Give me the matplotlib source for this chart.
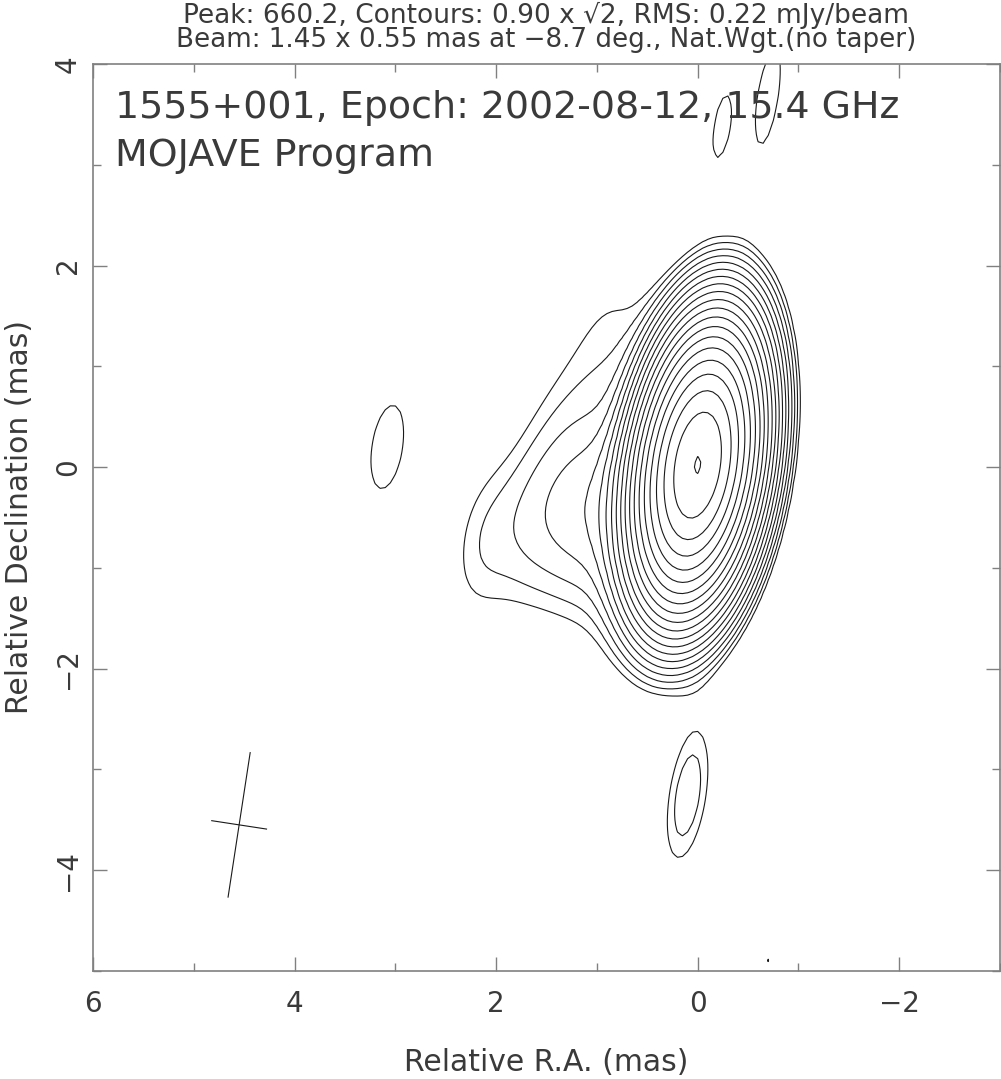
import numpy as np
import matplotlib
matplotlib.use("Agg")
import matplotlib.pyplot as plt
from matplotlib.ticker import MultipleLocator

# map header values
peak = 660.2
base_level = 0.90
rms = 0.22
beam_major = 1.45
beam_minor = 0.55
beam_pa = -8.7
source = "1555+001"
epoch = "2002-08-12"
freq = 15.4

# source components (RA offset mas, Dec offset mas, mJy, FWHM mas)
comp_x = [0.0, 0.55, 1.15, 1.65, 2.15, 0.85, 1.35, 0.7]
comp_y = [0.02, -0.30, -0.45, -0.55, -0.75, 1.30, 0.45, -1.35]
comp_flux = [765.0, 5.0, 3.0, 1.5, 1.1, 1.2, 0.9, 0.9]
comp_size = [0.3, 0.4, 0.4, 0.3, 0.2, 0.5, 0.5, 0.6]

# isolated noise peaks (RA, Dec, mJy/beam, width across and along the beam, mas)
noise_x = [3.08, 0.10, -0.24, -0.70, -0.69]
noise_y = [0.20, -3.26, 3.38, 3.68, -4.89]
noise_peak = [1.2, 1.64, 1.1, 1.2, 0.96]
noise_sx = [0.20, 0.164, 0.12, 0.13, 0.05]
noise_sy = [0.55, 0.566, 0.48, 0.63, 0.08]

# beam marker position
beam_x = 4.55
beam_y = -3.55

TEXT = "#3a3a3a"
FRAME = "#808080"
LINE = "#1a1a1a"


def beam_axes():
    pa = np.radians(beam_pa)
    e1 = np.array([np.sin(pa), np.cos(pa)])
    e2 = np.array([np.cos(pa), -np.sin(pa)])
    return e1, e2


def beam_cov(extra=0.0):
    e1, e2 = beam_axes()
    smaj = beam_major / 2.3548
    smin = beam_minor / 2.3548
    cov = smaj**2 * np.outer(e1, e1) + smin**2 * np.outer(e2, e2)
    s = extra / 2.3548
    return cov + s**2 * np.eye(2)


def make_map(X, Y):
    img = np.zeros_like(X)
    cb = beam_cov()
    for x0, y0, f, size in zip(comp_x, comp_y, comp_flux, comp_size):
        c = beam_cov(size)
        amp = f * np.sqrt(np.linalg.det(cb) / np.linalg.det(c))
        ci = np.linalg.inv(c)
        dx = X - x0
        dy = Y - y0
        q = ci[0, 0] * dx * dx + 2 * ci[0, 1] * dx * dy + ci[1, 1] * dy * dy
        img += amp * np.exp(-0.5 * q)
    e1, e2 = beam_axes()
    for x0, y0, p, sx, sy in zip(noise_x, noise_y, noise_peak, noise_sx, noise_sy):
        dx = X - x0
        dy = Y - y0
        u = e1[0] * dx + e1[1] * dy
        v = e2[0] * dx + e2[1] * dy
        img += p * np.exp(-0.5 * ((u / sy) ** 2 + (v / sx) ** 2))
    return img


def minus(v, p):
    return f"{v:g}".replace("-", "\u2212")


def main():
    plt.rcParams["font.family"] = ["DejaVu Sans"]
    fig = plt.figure(figsize=(10.01, 10.79), dpi=100)
    ax = fig.add_axes([93 / 1001, 1 - 971 / 1079, 907 / 1001, 907 / 1079])

    xs = np.arange(-3.2, 6.25, 0.05)
    ys = np.arange(-5.2, 4.25, 0.05)
    X, Y = np.meshgrid(xs, ys)
    img = make_map(X, Y)

    levels = [base_level * np.sqrt(2) ** k for k in range(30)]
    levels = [l for l in levels if l < peak]
    ax.contour(X, Y, img, levels=levels, colors=LINE, linewidths=0.8)

    # beam cross
    e1, e2 = beam_axes()
    for length, e in [(beam_major, e1), (beam_minor, e2)]:
        ax.plot([beam_x - e[0] * length / 2, beam_x + e[0] * length / 2],
                [beam_y - e[1] * length / 2, beam_y + e[1] * length / 2],
                color=LINE, lw=0.8)

    ax.set_xlim(6, -3)
    ax.set_ylim(-5, 4)

    ax.xaxis.set_major_locator(MultipleLocator(2))
    ax.xaxis.set_minor_locator(MultipleLocator(1))
    ax.yaxis.set_major_locator(MultipleLocator(2))
    ax.yaxis.set_minor_locator(MultipleLocator(1))
    ax.tick_params(which="both", direction="in", top=True, right=True,
                   color=FRAME, labelcolor=TEXT, labelsize=20, width=1)
    ax.tick_params(which="major", length=10, pad=14)
    ax.tick_params(which="minor", length=5.5)
    ax.tick_params(axis="y", which="major", pad=8, labelrotation=90)
    for lab in ax.get_yticklabels():
        lab.set_va("center")
    ax.xaxis.set_major_formatter(plt.FuncFormatter(minus))
    ax.yaxis.set_major_formatter(plt.FuncFormatter(minus))
    for s in ax.spines.values():
        s.set_color(FRAME)
        s.set_linewidth(1.2)

    ax.set_xlabel("Relative R.A. (mas)", fontsize=21.5, color=TEXT, labelpad=21)
    ax.set_ylabel("Relative Declination (mas)", fontsize=21.5, color=TEXT, labelpad=14)

    fig.text(546 / 1001, 1 - 15 / 1079,
             f"Peak: {peak}, Contours: {base_level:.2f} x \u221a2, RMS: {rms} mJy/beam",
             ha="center", va="center", fontsize=19, color=TEXT)
    fig.text(546 / 1001, 1 - 40 / 1079,
             f"Beam: {beam_major} x {beam_minor} mas at \u2212{abs(beam_pa)} deg., Nat.Wgt.(no taper)",
             ha="center", va="center", fontsize=18.8, color=TEXT)

    ax.text(0.024, 0.9515, f"{source}, Epoch: {epoch}, {freq} GHz",
            transform=ax.transAxes, fontsize=27.3, color=TEXT, va="center")
    ax.text(0.024, 0.8986, "MOJAVE Program",
            transform=ax.transAxes, fontsize=27.3, color=TEXT, va="center")

    fig.savefig("out.png", dpi=100)
    plt.close(fig)


if __name__ == "__main__":
    main()
